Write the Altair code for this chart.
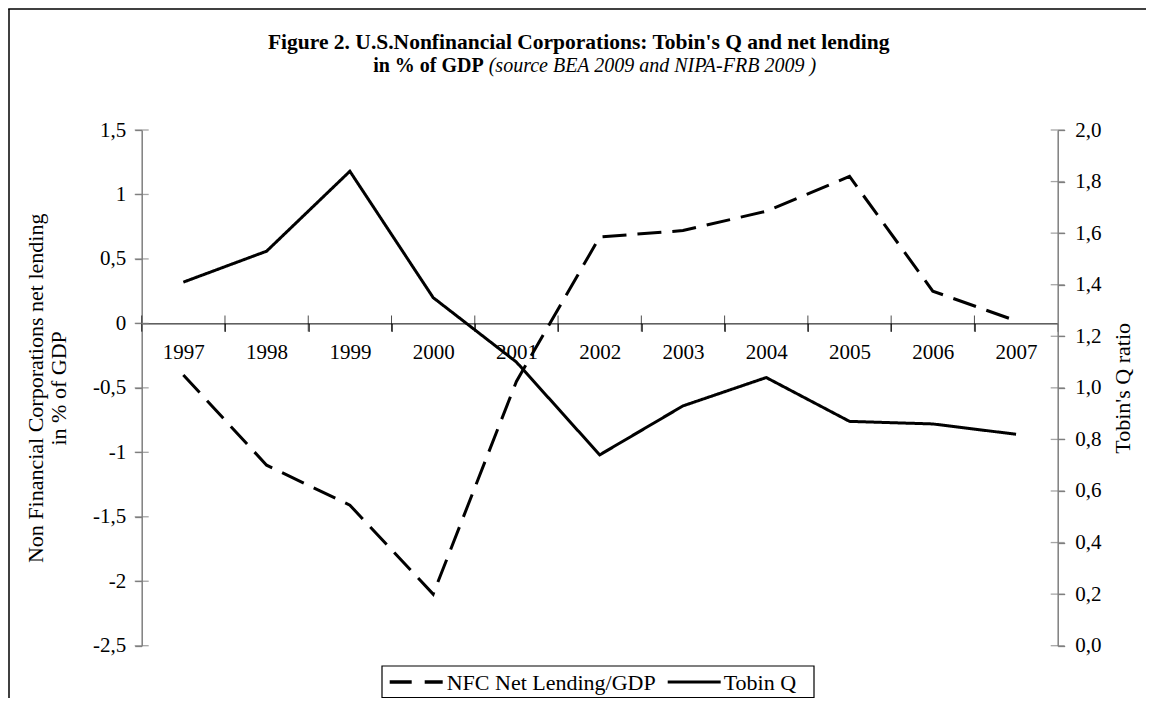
import altair as alt
import pandas as pd

# ---- data ----
years = ["1997", "1998", "1999", "2000", "2001", "2002", "2003", "2004", "2005", "2006", "2007"]
nfc_lending = [-0.40, -1.10, -1.41, -2.10, -0.45, 0.67, 0.72, 0.87, 1.14, 0.25, 0.02]
tobin_q = [1.41, 1.53, 1.84, 1.35, 1.10, 0.74, 0.93, 1.04, 0.87, 0.86, 0.82]
series_names = ["NFC Net Lending/GDP", "Tobin Q"]
left_ticks = [-2.5, -2.0, -1.5, -1.0, -0.5, 0.0, 0.5, 1.0, 1.5]
right_ticks = [0.0, 0.2, 0.4, 0.6, 0.8, 1.0, 1.2, 1.4, 1.6, 1.8, 2.0]
left_domain = [-2.5, 1.5]
right_domain = [0.0, 2.0]
title_line1 = "Figure 2. U.S.Nonfinancial Corporations: Tobin's Q and net lending"
title_line2_bold = "in % of GDP"
title_line2_italic = "(source BEA 2009 and NIPA-FRB 2009 )"
left_title = ["Non Financial Corporations net lending", "in % of GDP"]
right_title = "Tobin's Q ratio"

FONT = "Liberation Serif"
W, H = 916, 515.7
GRAY = "#7f7f7f"

nfc_df = pd.DataFrame({"year": years, "value": nfc_lending, "series": series_names[0]})
tq_df = pd.DataFrame({"year": years, "value": tobin_q, "series": series_names[1]})
year_df = pd.DataFrame({"year": years})
lt_df = pd.DataFrame({"v": left_ticks})
rt_df = pd.DataFrame({"v": right_ticks})

zero_offset = -(H - H * (left_domain[1] - 0) / (left_domain[1] - left_domain[0]))

x_axis = alt.Axis(
    title=None, offset=zero_offset, domainColor="black", domainWidth=1,
    tickColor="black", tickWidth=1, tickSize=8, tickBand="extent",
    labelPadding=10, labelAngle=0,
)
x_scale = alt.Scale(paddingInner=0, paddingOuter=0)
lscale = alt.Scale(domain=left_domain, nice=False, zero=False)
rscale = alt.Scale(domain=right_domain, nice=False, zero=False)

dash = alt.StrokeDash(
    "series:N",
    scale=alt.Scale(domain=series_names, range=[[24, 11], [1, 0]]),
    legend=None,
)

nfc_line = alt.Chart(nfc_df).mark_line(color="black", strokeWidth=3).encode(
    x=alt.X("year:N", sort=years, scale=x_scale, axis=x_axis),
    y=alt.Y("value:Q", scale=lscale, axis=alt.Axis(
        orient="left", values=left_ticks, title=left_title,
        labelExpr="replace(toString(datum.value), '.', ',')",
        domainColor=GRAY, domainWidth=1.5, tickColor=GRAY, tickWidth=1.3,
        tickSize=7, labelPadding=9, titlePadding=22, titleLineHeight=23,
        grid=False,
    )),
    strokeDash=dash,
)

tq_line = alt.Chart(tq_df).mark_line(color="black", strokeWidth=3).encode(
    x=alt.X("year:N", sort=years, scale=x_scale, axis=x_axis),
    y=alt.Y("value:Q", scale=rscale, axis=alt.Axis(
        orient="right", values=right_ticks, title=right_title,
        labelExpr="replace(format(datum.value, '.1f'), '.', ',')",
        domainColor=GRAY, domainWidth=1.5, tickColor=GRAY, tickWidth=1.3,
        tickSize=7, labelPadding=10, titlePadding=34, titleAngle=270,
        grid=False,
    )),
    strokeDash=dash,
)

# crossing tick marks on the zero line (band boundaries)
x_cross = alt.Chart(year_df).mark_tick(orient="vertical", size=16, thickness=1, color="black").encode(
    x=alt.X("year:N", sort=years, scale=x_scale, axis=x_axis, bandPosition=0),
    y=alt.YDatum(0, scale=lscale, axis=None),
)

# inward halves of the y-axis ticks
l_cross = alt.Chart(lt_df).mark_tick(orient="horizontal", size=14, thickness=1.3, color=GRAY).encode(
    x=alt.value(0),
    y=alt.Y("v:Q", scale=lscale, axis=None),
)
r_cross = alt.Chart(rt_df).mark_tick(orient="horizontal", size=14, thickness=1.3, color=GRAY).encode(
    x=alt.value(W),
    y=alt.Y("v:Q", scale=rscale, axis=None),
)

one = pd.DataFrame({
    "t": [title_line1], "b": [title_line2_bold], "i": [title_line2_italic],
    "s1": [series_names[0]], "s2": [series_names[1]],
})
t1 = alt.Chart(one).mark_text(font=FONT, fontSize=21.5, fontWeight="bold", align="center",
                              baseline="middle", color="black").encode(
    x=alt.value(437), y=alt.value(-87), text="t:N")
t2b = alt.Chart(one).mark_text(font=FONT, fontSize=20, fontWeight="bold", align="right",
                               baseline="middle", color="black").encode(
    x=alt.value(342), y=alt.value(-64), text="b:N")
t2i = alt.Chart(one).mark_text(font=FONT, fontSize=20, fontStyle="italic", align="left",
                               baseline="middle", color="black").encode(
    x=alt.value(347), y=alt.value(-64), text="i:N")

# legend (drawn box, symbols and labels)
LY = 552
leg_box = alt.Chart(one).mark_rect(fill="white", stroke="black", strokeWidth=1.2).encode(
    x=alt.value(240.3), x2=alt.value(672.3), y=alt.value(536), y2=alt.value(567.5))
leg_dash = alt.Chart(one).mark_rule(color="black", strokeWidth=3.5, strokeDash=[22, 13]).encode(
    x=alt.value(248), x2=alt.value(301), y=alt.value(LY))
leg_solid = alt.Chart(one).mark_rule(color="black", strokeWidth=3).encode(
    x=alt.value(526), x2=alt.value(579), y=alt.value(LY))
leg_t1 = alt.Chart(one).mark_text(font=FONT, fontSize=22, align="left", baseline="middle",
                                  color="black").encode(
    x=alt.value(305), y=alt.value(LY + 1), text="s1:N")
leg_t2 = alt.Chart(one).mark_text(font=FONT, fontSize=22, align="left", baseline="middle",
                                  color="black").encode(
    x=alt.value(582), y=alt.value(LY + 1), text="s2:N")

frame_l = alt.Chart(one).mark_rule(color="black", strokeWidth=1.5).encode(
    x=alt.value(-132.7), y=alt.value(-121), y2=alt.value(700))
frame_t = alt.Chart(one).mark_rule(color="black", strokeWidth=1.5).encode(
    x=alt.value(-133.5), x2=alt.value(1100), y=alt.value(-121))

chart = alt.layer(
    nfc_line, tq_line, x_cross, l_cross, r_cross, t1, t2b, t2i,
    leg_box, leg_dash, leg_solid, leg_t1, leg_t2, frame_l, frame_t
).resolve_scale(y="independent").properties(
    width=W, height=H,
    autosize=alt.AutoSizeParams(type="none"),
    padding={"left": 133.7, "top": 122, "right": 88.3, "bottom": 52.3},
    background="white",
).configure_view(stroke=None).configure_axis(
    labelFont=FONT, labelFontSize=21, labelColor="black",
    titleFont=FONT, titleFontSize=22, titleFontWeight="normal", titleColor="black",
)

chart.save("out.html", embed_options={"renderer": "svg", "actions": False})
